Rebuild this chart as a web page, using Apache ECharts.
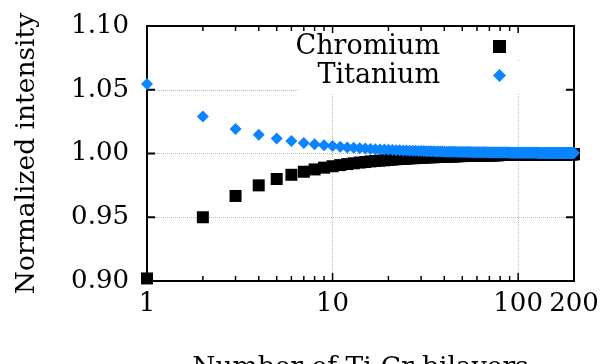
<!DOCTYPE html>
<html>
<head>
<meta charset="utf-8">
<script src="https://cdn.jsdelivr.net/npm/echarts@6/dist/echarts.min.js"></script>
<style>
    html, body { margin: 0; padding: 0; background: #fff; }
    #chart { width: 600px; height: 364px; }
</style>
</head>
<body>
<div id="chart"></div>
<script>
// number of bilayers (x, log scale)
const nLayers = [
    1, 2, 3, 4, 5, 6, 7, 8, 9, 10,
    11, 12, 13, 14, 15, 16, 17, 18, 19, 20,
    21, 22, 23, 24, 25, 26, 27, 28, 29, 30,
    31, 32, 33, 34, 35, 36, 37, 38, 39, 40,
    41, 42, 43, 44, 45, 46, 47, 48, 49, 50,
    51, 52, 53, 54, 55, 56, 57, 58, 59, 60,
    61, 62, 63, 64, 65, 66, 67, 68, 69, 70,
    71, 72, 73, 74, 75, 76, 77, 78, 79, 80,
    81, 82, 83, 84, 85, 86, 87, 88, 89, 90,
    91, 92, 93, 94, 95, 96, 97, 98, 99, 100,
    101, 102, 103, 104, 105, 106, 107, 108, 109, 110,
    111, 112, 113, 114, 115, 116, 117, 118, 119, 120,
    121, 122, 123, 124, 125, 126, 127, 128, 129, 130,
    131, 132, 133, 134, 135, 136, 137, 138, 139, 140,
    141, 142, 143, 144, 145, 146, 147, 148, 149, 150,
    151, 152, 153, 154, 155, 156, 157, 158, 159, 160,
    161, 162, 163, 164, 165, 166, 167, 168, 169, 170,
    171, 172, 173, 174, 175, 176, 177, 178, 179, 180,
    181, 182, 183, 184, 185, 186, 187, 188, 189, 190,
    191, 192, 193, 194, 195, 196, 197, 198, 199, 200
]

const chromium = [
    0.902, 0.950, 0.9667, 0.975, 0.980, 0.9833, 0.9857, 0.9875, 0.9889, 0.990,
    0.9909, 0.9917, 0.9923, 0.9929, 0.9933, 0.9938, 0.9941, 0.9944, 0.9947, 0.995,
    0.9952, 0.9955, 0.9957, 0.9958, 0.996, 0.9962, 0.9963, 0.9964, 0.9966, 0.9967,
    0.9968, 0.9969, 0.997, 0.9971, 0.9971, 0.9972, 0.9973, 0.9974, 0.9974, 0.9975,
    0.9976, 0.9976, 0.9977, 0.9977, 0.9978, 0.9978, 0.9979, 0.9979, 0.998, 0.998,
    0.998, 0.9981, 0.9981, 0.9981, 0.9982, 0.9982, 0.9982, 0.9983, 0.9983, 0.9983,
    0.9984, 0.9984, 0.9984, 0.9984, 0.9985, 0.9985, 0.9985, 0.9985, 0.9986, 0.9986,
    0.9986, 0.9986, 0.9986, 0.9986, 0.9987, 0.9987, 0.9987, 0.9987, 0.9987, 0.9988,
    0.9988, 0.9988, 0.9988, 0.9988, 0.9988, 0.9988, 0.9989, 0.9989, 0.9989, 0.9989,
    0.9989, 0.9989, 0.9989, 0.9989, 0.9989, 0.999, 0.999, 0.999, 0.999, 0.999,
    0.999, 0.999, 0.999, 0.999, 0.999, 0.9991, 0.9991, 0.9991, 0.9991, 0.9991,
    0.9991, 0.9991, 0.9991, 0.9991, 0.9991, 0.9991, 0.9991, 0.9992, 0.9992, 0.9992,
    0.9992, 0.9992, 0.9992, 0.9992, 0.9992, 0.9992, 0.9992, 0.9992, 0.9992, 0.9992,
    0.9992, 0.9992, 0.9992, 0.9993, 0.9993, 0.9993, 0.9993, 0.9993, 0.9993, 0.9993,
    0.9993, 0.9993, 0.9993, 0.9993, 0.9993, 0.9993, 0.9993, 0.9993, 0.9993, 0.9993,
    0.9993, 0.9993, 0.9993, 0.9994, 0.9994, 0.9994, 0.9994, 0.9994, 0.9994, 0.9994,
    0.9994, 0.9994, 0.9994, 0.9994, 0.9994, 0.9994, 0.9994, 0.9994, 0.9994, 0.9994,
    0.9994, 0.9994, 0.9994, 0.9994, 0.9994, 0.9994, 0.9994, 0.9994, 0.9994, 0.9994,
    0.9994, 0.9995, 0.9995, 0.9995, 0.9995, 0.9995, 0.9995, 0.9995, 0.9995, 0.9995,
    0.9995, 0.9995, 0.9995, 0.9995, 0.9995, 0.9995, 0.9995, 0.9995, 0.9995, 0.9995
]

const titanium = [
    1.0545, 1.029, 1.0193, 1.0148, 1.0118, 1.0098, 1.0082, 1.0072, 1.0064, 1.0058,
    1.0053, 1.0048, 1.0045, 1.0041, 1.0039, 1.0036, 1.0034, 1.0032, 1.0031, 1.0029,
    1.0028, 1.0026, 1.0025, 1.0024, 1.0023, 1.0022, 1.0021, 1.0021, 1.002, 1.0019,
    1.0019, 1.0018, 1.0018, 1.0017, 1.0017, 1.0016, 1.0016, 1.0015, 1.0015, 1.0014,
    1.0014, 1.0014, 1.0013, 1.0013, 1.0013, 1.0013, 1.0012, 1.0012, 1.0012, 1.0012,
    1.0011, 1.0011, 1.0011, 1.0011, 1.0011, 1.001, 1.001, 1.001, 1.001, 1.001,
    1.001, 1.0009, 1.0009, 1.0009, 1.0009, 1.0009, 1.0009, 1.0009, 1.0008, 1.0008,
    1.0008, 1.0008, 1.0008, 1.0008, 1.0008, 1.0008, 1.0008, 1.0007, 1.0007, 1.0007,
    1.0007, 1.0007, 1.0007, 1.0007, 1.0007, 1.0007, 1.0007, 1.0007, 1.0007, 1.0006,
    1.0006, 1.0006, 1.0006, 1.0006, 1.0006, 1.0006, 1.0006, 1.0006, 1.0006, 1.0006,
    1.0006, 1.0006, 1.0006, 1.0006, 1.0006, 1.0005, 1.0005, 1.0005, 1.0005, 1.0005,
    1.0005, 1.0005, 1.0005, 1.0005, 1.0005, 1.0005, 1.0005, 1.0005, 1.0005, 1.0005,
    1.0005, 1.0005, 1.0005, 1.0005, 1.0005, 1.0005, 1.0005, 1.0005, 1.0004, 1.0004,
    1.0004, 1.0004, 1.0004, 1.0004, 1.0004, 1.0004, 1.0004, 1.0004, 1.0004, 1.0004,
    1.0004, 1.0004, 1.0004, 1.0004, 1.0004, 1.0004, 1.0004, 1.0004, 1.0004, 1.0004,
    1.0004, 1.0004, 1.0004, 1.0004, 1.0004, 1.0004, 1.0004, 1.0004, 1.0004, 1.0004,
    1.0004, 1.0004, 1.0004, 1.0004, 1.0004, 1.0003, 1.0003, 1.0003, 1.0003, 1.0003,
    1.0003, 1.0003, 1.0003, 1.0003, 1.0003, 1.0003, 1.0003, 1.0003, 1.0003, 1.0003,
    1.0003, 1.0003, 1.0003, 1.0003, 1.0003, 1.0003, 1.0003, 1.0003, 1.0003, 1.0003,
    1.0003, 1.0003, 1.0003, 1.0003, 1.0003, 1.0003, 1.0003, 1.0003, 1.0003, 1.0003
]

// tick positions
const xLabelValues = [1, 10, 100, 200]
const xMajorTicks = [10, 100]
const xMinorTicks = [2, 3, 4, 5, 6, 7, 8, 9, 20, 30, 40, 50, 60, 70, 80, 90]
const yTicks = [0.95, 1.0, 1.05]

const FONT = "DejaVu Serif"
const BLUE = "#0a84ff"
const GRIDLINE = { color: "#bbbbbb", width: 1, type: "dotted" }

const chart = echarts.init(document.getElementById("chart"))

const option = {
    animation: false,
    grid: {
        left: 147,
        right: 26,
        top: 26,
        bottom: 83,
        outerBoundsMode: "none",
    },
    legend: [
        {
            data: ["Chromium"],
            right: 37,
            top: 33,
            padding: [0, 57, 0, 8],
            backgroundColor: "#fff",
            align: "right",
            icon: "rect",
            itemWidth: 13,
            itemHeight: 13,
            textStyle: { fontFamily: FONT, fontSize: 27, color: "#000", padding: [0, 48, 0, 0] },
        },
        {
            data: ["Titanium"],
            right: 37,
            top: 62,
            padding: [0, 57, 4, 18],
            backgroundColor: "#fff",
            align: "right",
            icon: "diamond",
            itemWidth: 13,
            itemHeight: 13,
            textStyle: { fontFamily: FONT, fontSize: 27, color: "#000", padding: [0, 48, 0, 0] },
        },
    ],
    xAxis: {
        type: "log",
        logBase: 10,
        min: 1,
        max: 200,
        name: "Number of Ti-Cr bilayers",
        nameLocation: "middle",
        nameGap: 74,
        nameTextStyle: { fontFamily: FONT, fontSize: 26.5, color: "#000" },
        axisLine: { show: false, onZero: false },
        axisTick: { show: false },
        axisLabel: {
            customValues: xLabelValues,
            fontFamily: FONT,
            fontSize: 26,
            color: "#000",
            margin: 10,
        },
        splitLine: { show: true, showMinLine: false, showMaxLine: false, lineStyle: GRIDLINE },
    },
    yAxis: {
        type: "value",
        min: 0.9,
        max: 1.1,
        interval: 0.05,
        name: "Normalized intensity",
        nameLocation: "middle",
        nameGap: 106,
        nameTextStyle: { fontFamily: FONT, fontSize: 26.5, color: "#000" },
        axisLine: { show: false, onZero: false },
        axisTick: { show: false },
        axisLabel: {
            fontFamily: FONT,
            fontSize: 26,
            color: "#000",
            margin: 18,
            formatter: (v) => v.toFixed(2),
        },
        splitLine: { show: true, showMinLine: false, showMaxLine: false, lineStyle: GRIDLINE },
    },
    series: [
        {
            name: "Chromium",
            type: "scatter",
            symbol: "rect",
            symbolSize: 12,
            clip: false,
            itemStyle: { color: "#000", opacity: 1 },
            data: nLayers.map((n, i) => [n, chromium[i]]),
        },
        {
            name: "Titanium",
            type: "scatter",
            symbol: "diamond",
            symbolSize: 12,
            clip: false,
            itemStyle: { color: BLUE, opacity: 1 },
            data: nLayers.map((n, i) => [n, titanium[i]]),
        },
    ],
}

chart.setOption(option)

// frame and inward ticks, placed through the chart's own scales
// (drawn as thin filled rects)
const toPx = (x, y) => chart.convertToPixel({ xAxisIndex: 0, yAxisIndex: 0 }, [x, y])
const [L, B] = toPx(1, 0.9)
const [R, T] = toPx(200, 1.1)
const W = 2
const bar = (x, y, w, h) => ({
    type: "rect",
    silent: true,
    shape: { x: x, y: y, width: w, height: h },
    style: { fill: "#000" },
})

const marks = [
    bar(L - W / 2, T - W / 2, W, B - T + W),
    bar(R - W / 2, T - W / 2, W, B - T + W),
    bar(L - W / 2, T - W / 2, R - L + W, W),
    bar(L - W / 2, B - W / 2, R - L + W, W),
]
yTicks.forEach((v) => {
    const py = toPx(1, v)[1]
    marks.push(bar(L, py - 1, 8, 2))
    marks.push(bar(R - 8, py - 1, 8, 2))
})
const xTick = (v, len) => {
    const px = toPx(v, 0.9)[0]
    marks.push(bar(px - 0.75, B - len, 1.5, len))
    marks.push(bar(px - 0.75, T, 1.5, len))
}
xMinorTicks.forEach((v) => xTick(v, 5))
xMajorTicks.forEach((v) => xTick(v, 8))

chart.setOption({ graphic: { elements: marks.map((m) => ({ ...m, z: 1 })) } })
</script>
</body>
</html>
